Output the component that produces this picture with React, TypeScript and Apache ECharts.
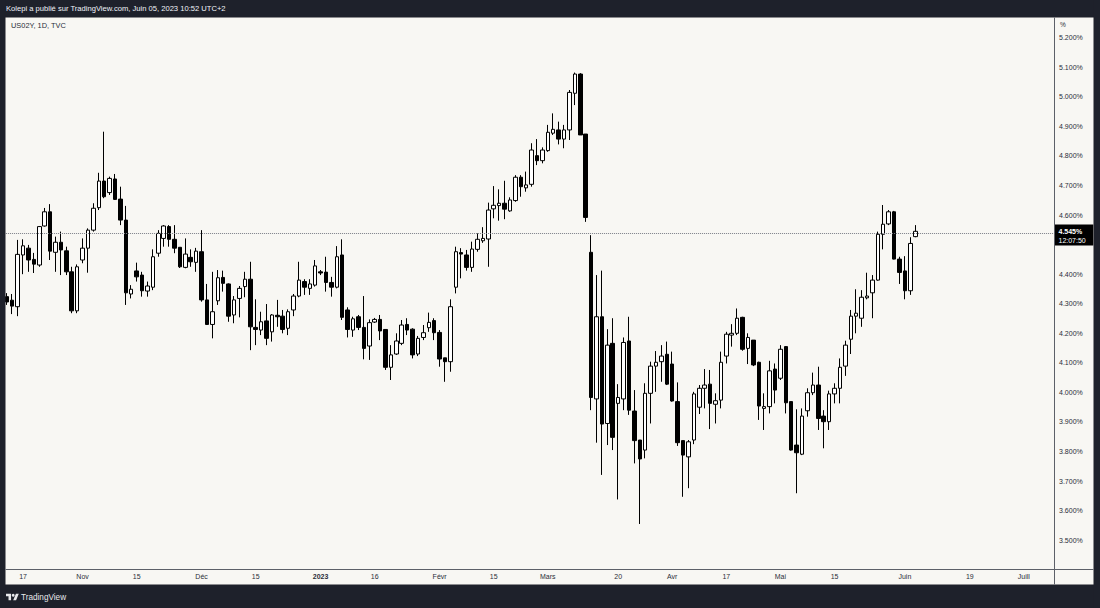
import { useEffect, useRef } from "react";
import * as echarts from "echarts";

// ---- calendar (every weekday is a bar on TVC:US02Y) ----
const firstTradingDay = "2022-10-12";
const tradingDayCount = 194; // includes the empty future part of the time scale

// ---- daily candles US02Y (%), Oct 12 2022 -> Jun 05 2023 ----
const opens = [
  4.324, 4.312, 4.290, 4.465, 4.488, 4.450, 4.431, 4.563, 4.611, 4.474,
  4.508, 4.479, 4.408, 4.276, 4.448, 4.488, 4.549, 4.625, 4.715, 4.676,
  4.722, 4.654, 4.583, 4.333, 4.411, 4.397, 4.343, 4.356, 4.471, 4.521,
  4.561, 4.518, 4.491, 4.423, 4.457, 4.440, 4.476, 4.313, 4.230, 4.310,
  4.389, 4.367, 4.262, 4.318, 4.358, 4.383, 4.220, 4.211, 4.242, 4.205,
  4.261, 4.258, 4.217, 4.279, 4.326, 4.375, 4.352, 4.363, 4.408, 4.407,
  4.372, 4.356, 4.465, 4.279, 4.211, 4.256, 4.220, 4.157, 4.238, 4.247,
  4.213, 4.085, 4.130, 4.166, 4.230, 4.214, 4.130, 4.186, 4.219, 4.243,
  4.203, 4.117, 4.104, 4.356, 4.473, 4.465, 4.423, 4.484, 4.513, 4.519,
  4.621, 4.632, 4.640, 4.614, 4.649, 4.728, 4.692, 4.704, 4.801, 4.784,
  4.818, 4.877, 4.888, 4.857, 4.888, 5.012, 5.077, 4.874, 4.474, 3.978,
  4.256, 3.895, 4.166, 3.963, 3.978, 4.174, 3.937, 3.839, 3.805, 3.997,
  4.089, 4.104, 4.129, 4.096, 3.969, 3.837, 3.782, 3.839, 3.950, 4.014,
  4.028, 3.960, 3.974, 4.123, 4.194, 4.200, 4.254, 4.149, 4.177, 4.102,
  3.946, 3.952, 4.079, 4.048, 4.155, 3.969, 3.822, 3.791, 3.938, 3.999,
  4.025, 3.920, 3.901, 3.995, 4.014, 4.089, 4.180, 4.258, 4.251, 4.320,
  4.337, 4.380, 4.535, 4.570, 4.611, 4.451, 4.411, 4.344, 4.527,
];
const closes = [
  4.306, 4.292, 4.467, 4.496, 4.448, 4.434, 4.561, 4.611, 4.478, 4.508,
  4.482, 4.408, 4.276, 4.425, 4.488, 4.549, 4.623, 4.715, 4.662, 4.724,
  4.653, 4.583, 4.337, 4.349, 4.391, 4.344, 4.360, 4.459, 4.538, 4.563,
  4.518, 4.488, 4.425, 4.468, 4.442, 4.478, 4.313, 4.230, 4.273, 4.388,
  4.369, 4.258, 4.313, 4.352, 4.383, 4.222, 4.213, 4.239, 4.183, 4.262,
  4.256, 4.213, 4.273, 4.326, 4.380, 4.356, 4.367, 4.428, 4.404, 4.372,
  4.356, 4.459, 4.254, 4.213, 4.249, 4.220, 4.149, 4.236, 4.247, 4.208,
  4.085, 4.127, 4.174, 4.228, 4.211, 4.127, 4.183, 4.202, 4.237, 4.202,
  4.113, 4.104, 4.290, 4.476, 4.468, 4.423, 4.485, 4.518, 4.521, 4.617,
  4.633, 4.640, 4.620, 4.651, 4.728, 4.696, 4.702, 4.820, 4.784, 4.820,
  4.880, 4.890, 4.857, 4.888, 5.015, 5.077, 4.871, 4.592, 3.983, 4.256,
  3.893, 4.160, 3.848, 3.983, 4.169, 3.940, 3.837, 3.775, 3.997, 4.089,
  4.102, 4.123, 4.028, 3.971, 3.830, 3.788, 3.833, 3.995, 4.014, 4.025,
  3.963, 3.972, 4.102, 4.197, 4.200, 4.251, 4.146, 4.186, 4.093, 3.954,
  3.952, 4.073, 4.008, 4.146, 3.965, 3.805, 3.796, 3.920, 3.999, 4.025,
  3.912, 3.901, 3.995, 4.014, 4.085, 4.160, 4.258, 4.268, 4.322, 4.326,
  4.380, 4.535, 4.569, 4.611, 4.451, 4.406, 4.344, 4.504, 4.545,
];
const lows = [
  4.296, 4.265, 4.258, 4.400, 4.408, 4.404, 4.425, 4.561, 4.448, 4.408,
  4.397, 4.397, 4.268, 4.268, 4.437, 4.405, 4.544, 4.617, 4.657, 4.668,
  4.651, 4.566, 4.296, 4.318, 4.375, 4.324, 4.324, 4.346, 4.459, 4.493,
  4.493, 4.471, 4.421, 4.420, 4.425, 4.408, 4.307, 4.228, 4.183, 4.296,
  4.341, 4.239, 4.234, 4.254, 4.322, 4.143, 4.160, 4.194, 4.160, 4.172,
  4.222, 4.200, 4.194, 4.258, 4.322, 4.330, 4.330, 4.358, 4.397, 4.341,
  4.324, 4.352, 4.245, 4.186, 4.188, 4.211, 4.112, 4.110, 4.235, 4.177,
  4.076, 4.042, 4.127, 4.160, 4.194, 4.115, 4.123, 4.177, 4.205, 4.177,
  4.087, 4.036, 4.070, 4.335, 4.386, 4.412, 4.408, 4.476, 4.506, 4.425,
  4.589, 4.581, 4.586, 4.611, 4.645, 4.662, 4.679, 4.696, 4.769, 4.775,
  4.814, 4.871, 4.839, 4.826, 4.854, 4.972, 4.871, 4.577, 3.940, 3.830,
  3.721, 3.822, 3.805, 3.638, 3.940, 3.924, 3.760, 3.555, 3.777, 3.895,
  4.002, 4.036, 4.025, 3.969, 3.819, 3.647, 3.676, 3.825, 3.927, 3.946,
  3.876, 3.895, 3.946, 4.098, 4.155, 4.194, 4.141, 4.096, 4.089, 3.907,
  3.873, 3.929, 3.963, 4.042, 3.929, 3.803, 3.659, 3.788, 3.918, 3.991,
  3.873, 3.811, 3.873, 3.963, 3.963, 4.056, 4.130, 4.200, 4.222, 4.315,
  4.251, 4.378, 4.484, 4.566, 4.450, 4.367, 4.315, 4.330, 4.525,
];
const highs = [
  4.336, 4.333, 4.516, 4.518, 4.499, 4.472, 4.563, 4.624, 4.637, 4.527,
  4.544, 4.493, 4.425, 4.433, 4.521, 4.555, 4.640, 4.743, 4.882, 4.730,
  4.739, 4.696, 4.631, 4.363, 4.439, 4.408, 4.375, 4.484, 4.549, 4.566,
  4.566, 4.566, 4.491, 4.521, 4.484, 4.489, 4.549, 4.367, 4.408, 4.414,
  4.412, 4.369, 4.326, 4.360, 4.408, 4.442, 4.315, 4.273, 4.299, 4.265,
  4.313, 4.279, 4.281, 4.333, 4.442, 4.383, 4.383, 4.448, 4.414, 4.459,
  4.391, 4.495, 4.518, 4.288, 4.256, 4.262, 4.326, 4.247, 4.252, 4.262,
  4.213, 4.160, 4.200, 4.245, 4.251, 4.217, 4.191, 4.228, 4.270, 4.251,
  4.211, 4.117, 4.315, 4.493, 4.488, 4.482, 4.510, 4.538, 4.559, 4.642,
  4.698, 4.687, 4.716, 4.660, 4.735, 4.735, 4.747, 4.843, 4.857, 4.829,
  4.905, 4.944, 4.916, 4.905, 5.023, 5.082, 5.080, 4.874, 4.532, 4.397,
  4.412, 4.214, 4.251, 4.028, 4.186, 4.256, 4.008, 3.839, 4.031, 4.104,
  4.140, 4.160, 4.172, 4.138, 4.034, 3.837, 3.839, 4.002, 4.025, 4.079,
  4.076, 3.997, 4.138, 4.205, 4.231, 4.284, 4.256, 4.200, 4.177, 4.104,
  3.997, 4.107, 4.098, 4.160, 4.157, 3.969, 3.943, 3.946, 4.014, 4.067,
  4.087, 3.940, 4.006, 4.031, 4.115, 4.175, 4.279, 4.349, 4.346, 4.405,
  4.397, 4.544, 4.634, 4.617, 4.614, 4.459, 4.461, 4.525, 4.566,
];

// ---- time-scale labels (TradingView, French locale) ----
const tickDates = [
  "2022-10-17", "2022-11-01", "2022-11-15", "2022-12-01", "2022-12-15",
  "2023-01-02", "2023-01-16", "2023-02-01", "2023-02-15", "2023-03-01",
  "2023-03-20", "2023-04-03", "2023-04-17", "2023-05-01", "2023-05-15",
  "2023-06-01", "2023-06-19", "2023-07-03",
];
const tickTexts = [
  "17", "Nov", "15", "Déc", "15", "2023", "16", "Févr", "15", "Mars",
  "20", "Avr", "17", "Mai", "15", "Juin", "19", "Juill",
];

// ---- price scale ----
const priceAxisMin = 3.4;
const priceAxisMax = 5.2683;
const priceStep = 0.1;
const priceLabelFirst = 3.5;
const priceLabelLast = 5.2;

// ---- texts ----
const lastPrice = 4.545;
const countdownText = "12:07:50";
const symbolTitle = "US02Y, 1D, TVC";
const publishLine = "Kolepi a publié sur TradingView.com, Juin 05, 2023 10:52 UTC+2";
const brandText = "TradingView";

const FONT = "'Liberation Sans', Arial, sans-serif";
const DARK = "#1e212b";
const PANEL = "#f8f7f3";
const AXIS_TEXT = "#2a2e39";
const SEP = "#5d6068";

echarts.graphic.registerShape(
  "tvlogo",
  echarts.graphic.extendPath("M14 22H7V11H0V4h14v18zM28 22h-8l7.5-18h8L28 22z", {})
);

function weekdayCalendar(start: string, n: number): string[] {
  const out: string[] = [];
  const d = new Date(start + "T00:00:00Z");
  while (out.length < n) {
    const wd = d.getUTCDay();
    if (wd !== 0 && wd !== 6) out.push(d.toISOString().slice(0, 10));
    d.setUTCDate(d.getUTCDate() + 1);
  }
  return out;
}

export default function App() {
  const ref = useRef<HTMLDivElement>(null);

  useEffect(() => {
    if (!ref.current) return;
    const chart = echarts.init(ref.current, null, { renderer: "svg" });
    const dates = weekdayCalendar(firstTradingDay, tradingDayCount);
    const tickMap = new Map<string, string>(tickDates.map((d, i) => [d, tickTexts[i]]));
    const candles = opens.map((o, i) => [o, closes[i], lows[i], highs[i]]);

    chart.setOption({
      animation: false,
      backgroundColor: PANEL,
      grid: { left: 4.1, right: 46.37, top: 17.5, bottom: 38.2 },
      xAxis: {
        type: "category",
        data: dates,
        boundaryGap: true,
        axisLine: { show: false },
        axisTick: { show: false },
        splitLine: { show: false },
        axisLabel: {
          interval: 0,
          margin: 3.5,
          fontSize: 7,
          fontFamily: FONT,
          color: AXIS_TEXT,
          formatter: (v: string) => {
            const t = tickMap.get(v);
            if (!t) return "";
            return /^\d{4}$/.test(t) ? `{y|${t}}` : t;
          },
          rich: {
            y: { fontWeight: "bold", fontSize: 7, fontFamily: FONT, color: AXIS_TEXT },
          },
        },
      },
      yAxis: {
        type: "value",
        position: "right",
        min: priceAxisMin,
        max: priceAxisMax,
        interval: priceStep,
        axisLine: { show: false },
        axisTick: { show: false },
        splitLine: { show: false },
        axisLabel: {
          margin: 5.4,
          fontSize: 7,
          fontFamily: FONT,
          color: AXIS_TEXT,
          showMinLabel: false,
          showMaxLabel: false,
          formatter: (v: number) => {
            const k = Math.round(v / priceStep);
            if (Math.abs(v / priceStep - k) > 1e-6) return "";
            const p = k * priceStep;
            if (p < priceLabelFirst - 1e-6 || p > priceLabelLast + 1e-6) return "";
            // the last-price box covers the scale label right under it
            if (p < lastPrice && lastPrice - p < priceStep * 0.6) return "";
            return p.toFixed(3) + "%";
          },
        },
      },
      series: [
        {
          type: "candlestick",
          data: candles,
          barWidth: 4,
          itemStyle: {
            color: "#ffffff",
            color0: "#000000",
            borderColor: "#000000",
            borderColor0: "#000000",
            borderWidth: 1,
          },
          markLine: {
            silent: true,
            symbol: ["none", "none"],
            label: { show: false },
            lineStyle: { color: "#7a7d86", type: "dotted", width: 1 },
            data: [{ yAxis: lastPrice }],
          },
        },
      ],
    });

    const py = chart.convertToPixel({ yAxisIndex: 0 }, lastPrice) as number;
    const txt = (text: string, x: number, y: number, size: number, fill: string, extra: any = {}) => ({
      type: "text",
      x,
      y,
      z: 100,
      silent: true,
      style: { text, fontSize: size, fontFamily: FONT, fill, verticalAlign: "middle", align: "left", ...extra },
    });

    chart.setOption({
      graphic: [
        { type: "rect", z: 90, silent: true, shape: { x: 0, y: 0, width: 1100, height: 17.5 }, style: { fill: DARK } },
        { type: "rect", z: 90, silent: true, shape: { x: 0, y: 584.5, width: 1100, height: 23.5 }, style: { fill: DARK } },
        { type: "rect", z: 90, silent: true, shape: { x: 0, y: 0, width: 5.5, height: 608 }, style: { fill: DARK } },
        { type: "rect", z: 90, silent: true, shape: { x: 1093.5, y: 0, width: 6.5, height: 608 }, style: { fill: DARK } },
        { type: "line", z: 95, silent: true, shape: { x1: 1054.5, y1: 17.5, x2: 1054.5, y2: 584.5 }, style: { stroke: SEP, lineWidth: 1 } },
        { type: "line", z: 95, silent: true, shape: { x1: 5.5, y1: 569.5, x2: 1093.5, y2: 569.5 }, style: { stroke: SEP, lineWidth: 1 } },
        txt(publishLine, 6, 8.8, 7.6, "#f0f3fa"),
        txt(symbolTitle, 11, 25.7, 7.4, "#2a2e39"),
        txt("%", 1060, 24.8, 6.5, AXIS_TEXT),
        { type: "rect", z: 98, silent: true, shape: { x: 1055, y: py - 6.8, width: 38.3, height: 21 }, style: { fill: "#000000" } },
        txt(lastPrice.toFixed(3) + "%", 1058.5, py + 0.3, 7, "#ffffff", { fontWeight: "bold" }),
        txt(countdownText, 1058.5, py + 9.6, 7, "#ffffff"),
        {
          type: "tvlogo",
          z: 100,
          silent: true,
          x: 6,
          y: 592.4,
          scaleX: 0.36,
          scaleY: 0.36,
          style: { fill: "#e8e9ec" },
        },
        { type: "circle", z: 100, silent: true, shape: { cx: 6 + 20 * 0.36, cy: 592.4 + 8 * 0.36, r: 4 * 0.36 }, style: { fill: "#e8e9ec" } },
        txt(brandText, 21, 597.3, 8.2, "#e8e9ec"),
      ],
    });

    return () => chart.dispose();
  }, []);

  return <div ref={ref} style={{ position: "fixed", left: 0, top: 0, width: 1100, height: 608 }} />;
}
